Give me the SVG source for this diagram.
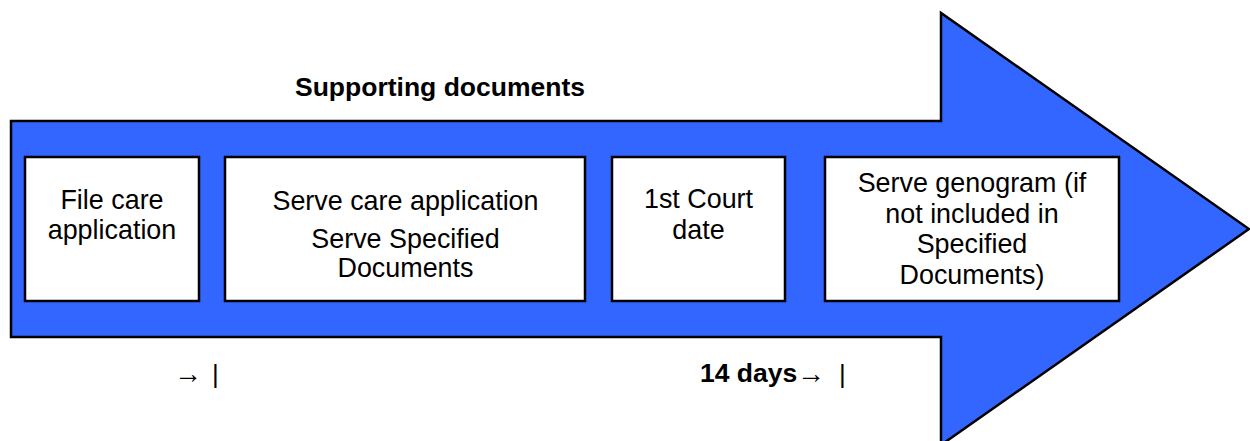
<svg xmlns="http://www.w3.org/2000/svg" width="1250" height="441" viewBox="0 0 1250 441">
  <style>
    .box { fill: #ffffff; stroke: #000000; stroke-width: 2.5; }
    .lbl { font-family: "Liberation Sans", Arial, sans-serif; font-size: 26.9px; fill: #000000; text-anchor: middle; }
    .bold { font-family: "Liberation Sans", Arial, sans-serif; font-size: 26.5px; font-weight: bold; fill: #000000; }
    .arr { font-family: "Liberation Sans", "DejaVu Sans", sans-serif; font-size: 28px; fill: #000000; }
    .bar { font-family: "Liberation Sans", Arial, sans-serif; font-size: 26px; fill: #000000; }
  </style>

  <!-- Big timeline arrow -->
  <g id="timeline-arrow">
    <path d="M11,121 H941 V13 L1249,229 L941,445 V337 H11 Z" fill="#3366FF" stroke="#000000" stroke-width="2.5" stroke-linejoin="miter"/>
  </g>

  <text class="bold" x="295" y="96">Supporting documents</text>

  <g id="step-file">
    <rect class="box" x="25" y="157" width="174" height="144"/>
    <text class="lbl" x="112" y="209">File care</text>
    <text class="lbl" x="112" y="239">application</text>
  </g>

  <g id="step-serve">
    <rect class="box" x="225" y="157" width="360" height="144"/>
    <text class="lbl" x="405.5" y="210">Serve care application</text>
    <text class="lbl" x="405.5" y="248">Serve Specified</text>
    <text class="lbl" x="405.5" y="277">Documents</text>
  </g>

  <g id="step-court">
    <rect class="box" x="612" y="157" width="173" height="144"/>
    <text class="lbl" x="698.5" y="208">1st Court</text>
    <text class="lbl" x="698.5" y="239">date</text>
  </g>

  <g id="step-genogram">
    <rect class="box" x="825" y="157" width="294" height="144"/>
    <text class="lbl" x="972" y="192">Serve genogram (if</text>
    <text class="lbl" x="972" y="222.5">not included in</text>
    <text class="lbl" x="972" y="253">Specified</text>
    <text class="lbl" x="972" y="284">Documents)</text>
  </g>

  <!-- Time markers under the arrow -->
  <g id="markers">
    <text class="arr" x="174" y="383">→</text>
    <text class="bar" x="212" y="383">|</text>
    <text class="bold" x="700" y="382">14 days</text>
    <text class="arr" x="797" y="383">→</text>
    <text class="bar" x="839" y="383">|</text>
  </g>
</svg>
